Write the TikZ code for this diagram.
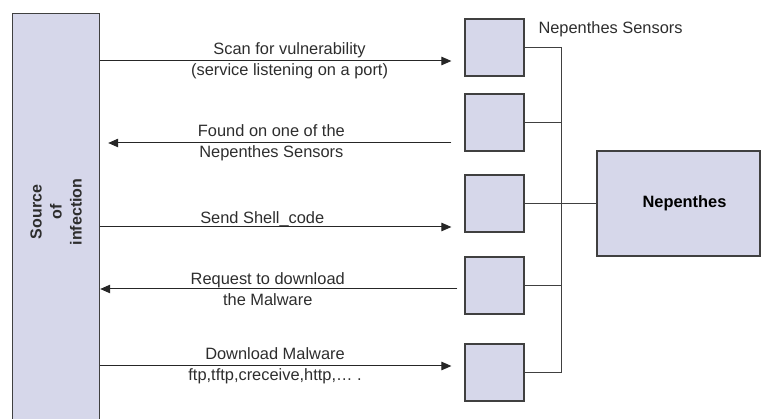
\documentclass[tikz,border=0pt]{standalone}
\usepackage{fontspec}
\setmainfont{Liberation Sans}
\usetikzlibrary{arrows.meta}
\definecolor{boxfill}{RGB}{214,215,234}
\definecolor{boxline}{RGB}{64,64,64}
\definecolor{txt}{RGB}{45,45,45}

\tikzset{
  box/.style={draw=boxline, fill=boxfill, line width=1.2pt, inner sep=0pt},
  sensor/.style={box, minimum width=59pt, minimum height=57pt},
  msg/.style={-{Triangle[length=10pt,width=8.5pt]}, line width=1pt, draw=black!85},
  lbl/.style={font=\fontsize{16.4}{21}\selectfont, text=txt, align=center},
  wire/.style={line width=0.9pt, draw=boxline}
}

\begin{document}
\begin{tikzpicture}[x=1pt,y=-1pt]
  \useasboundingbox (0,0) rectangle (761,419);
  % source of infection
  \node[box, minimum width=87pt, minimum height=420pt, anchor=north west] (src) at (12,13) {};
  \node[lbl, rotate=90, font=\fontsize{16}{20}\selectfont\bfseries] (srclbl) at (56,212) {Source\\of\\infection};
  % sensors
  \node[sensor] (s1) at (494.5,47.5) {};
  \node[sensor] (s2) at (494.5,122.5) {};
  \node[sensor] (s3) at (494.5,203.5) {};
  \node[sensor] (s4) at (494.5,285.5) {};
  \node[sensor] (s5) at (494.5,372.5) {};
  \node[lbl, anchor=west] (senslbl) at (535,29) {Nepenthes Sensors};
  \node[box, minimum width=163pt, minimum height=105pt, font=\fontsize{16.4}{20}\selectfont\bfseries] (nep) at (678.5,203.5) {\hspace{12pt}Nepenthes};
  % bus
  \coordinate (bus) at (561,0);
  \draw[wire] (s1.east) -- (bus |- s1.east) -- (bus |- s5.east) -- (s5.east);
  \draw[wire] (s2.east) -- (bus |- s2.east);
  \draw[wire] (s4.east) -- (bus |- s4.east);
  \draw[wire] (s3.east) -- (nep.west);
  % messages
  \draw[msg, shorten >=13pt] (src.east |- 0,61) -- node[lbl, pos=0.52] {Scan for vulnerability\\(service listening on a port)} (s1.west |- 0,61);
  \draw[msg, shorten <=13pt, shorten >=8pt] (s2.west |- 0,143) -- node[lbl, pos=0.53] {Found on one of the\\Nepenthes Sensors} (src.east |- 0,143);
  \draw[msg, shorten >=13pt] (src.east |- 0,227) -- node[lbl, pos=0.445, anchor=base, yshift=3pt] {Send Shell\_code} (s3.west |- 0,227);
  \draw[msg, shorten <=7pt] (s4.west |- 0,289) -- node[lbl, pos=0.54] {Request to download\\the Malware} (src.east |- 0,289);
  \draw[msg, shorten >=13pt] (src.east |- 0,366) -- node[lbl, pos=0.48] {Download Malware\\ftp,tftp,creceive,http,\dots\ .} (s5.west |- 0,366);
\end{tikzpicture}
\end{document}
